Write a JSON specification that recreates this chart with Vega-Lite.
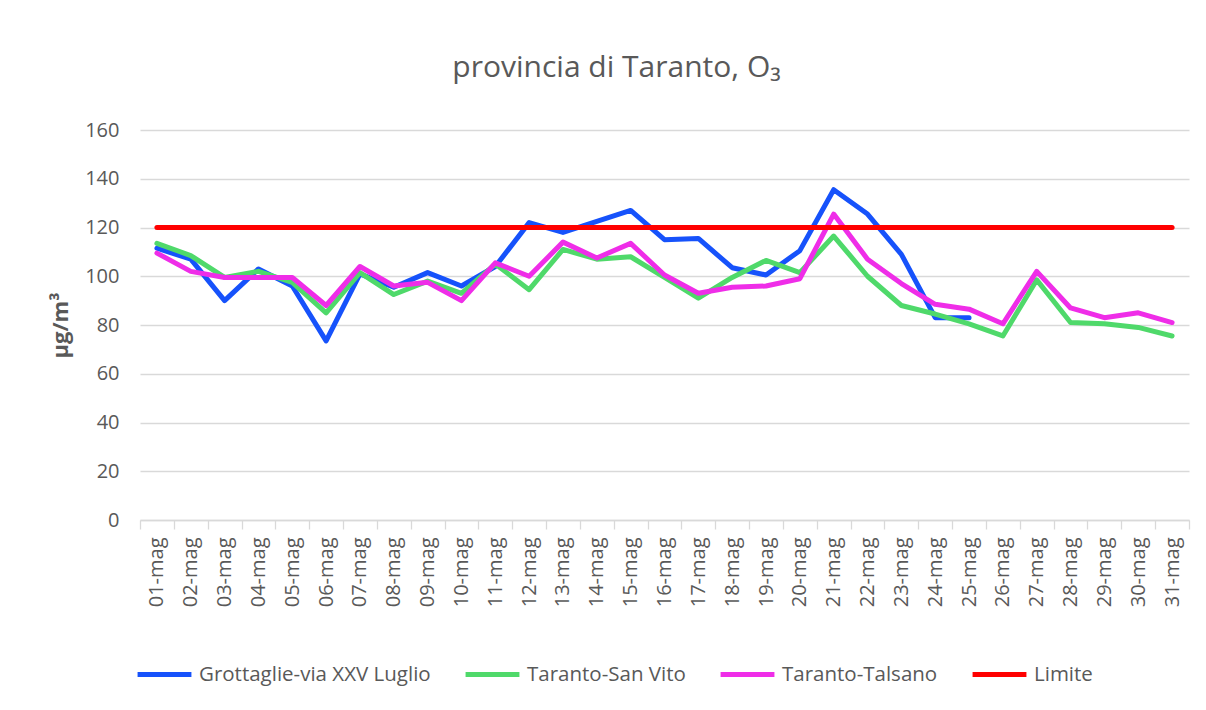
{
  "$schema": "https://vega.github.io/schema/vega-lite/v6.json",
  "width": 1049,
  "height": 390,
  "autosize": {"type": "none"},
  "padding": {"left": 140, "top": 130, "right": 17, "bottom": 190},
  "background": "white",
  "title": {
    "text": "provincia di Taranto, O₃",
    "font": "Open Sans",
    "fontSize": 30,
    "fontWeight": "normal",
    "color": "#595959",
    "anchor": "middle",
    "baseline": "bottom",
    "offset": 7,
    "dx": -48
  },
  "config": {
    "view": {"stroke": null},
    "font": "Open Sans",
    "axis": {"labelFont": "Open Sans", "titleFont": "Open Sans", "labelColor": "#595959", "titleColor": "#595959"},
    "legend": {"labelFont": "Open Sans"}
  },
  "datasets": {
    "rows": [
      {"day": "01-mag", "station": "Grottaglie-via XXV Luglio", "value": 111.5},
      {"day": "02-mag", "station": "Grottaglie-via XXV Luglio", "value": 107},
      {"day": "03-mag", "station": "Grottaglie-via XXV Luglio", "value": 90},
      {"day": "04-mag", "station": "Grottaglie-via XXV Luglio", "value": 103},
      {"day": "05-mag", "station": "Grottaglie-via XXV Luglio", "value": 96},
      {"day": "06-mag", "station": "Grottaglie-via XXV Luglio", "value": 73.5},
      {"day": "07-mag", "station": "Grottaglie-via XXV Luglio", "value": 101},
      {"day": "08-mag", "station": "Grottaglie-via XXV Luglio", "value": 95.5},
      {"day": "09-mag", "station": "Grottaglie-via XXV Luglio", "value": 101.5},
      {"day": "10-mag", "station": "Grottaglie-via XXV Luglio", "value": 96},
      {"day": "11-mag", "station": "Grottaglie-via XXV Luglio", "value": 104},
      {"day": "12-mag", "station": "Grottaglie-via XXV Luglio", "value": 122},
      {"day": "13-mag", "station": "Grottaglie-via XXV Luglio", "value": 118},
      {"day": "14-mag", "station": "Grottaglie-via XXV Luglio", "value": 122.5},
      {"day": "15-mag", "station": "Grottaglie-via XXV Luglio", "value": 127},
      {"day": "16-mag", "station": "Grottaglie-via XXV Luglio", "value": 115},
      {"day": "17-mag", "station": "Grottaglie-via XXV Luglio", "value": 115.5},
      {"day": "18-mag", "station": "Grottaglie-via XXV Luglio", "value": 103.5},
      {"day": "19-mag", "station": "Grottaglie-via XXV Luglio", "value": 100.5},
      {"day": "20-mag", "station": "Grottaglie-via XXV Luglio", "value": 110.5},
      {"day": "21-mag", "station": "Grottaglie-via XXV Luglio", "value": 135.5},
      {"day": "22-mag", "station": "Grottaglie-via XXV Luglio", "value": 125.5},
      {"day": "23-mag", "station": "Grottaglie-via XXV Luglio", "value": 109},
      {"day": "24-mag", "station": "Grottaglie-via XXV Luglio", "value": 83},
      {"day": "25-mag", "station": "Grottaglie-via XXV Luglio", "value": 83},
      {"day": "01-mag", "station": "Taranto-San Vito", "value": 113.5},
      {"day": "02-mag", "station": "Taranto-San Vito", "value": 108.5},
      {"day": "03-mag", "station": "Taranto-San Vito", "value": 99.5},
      {"day": "04-mag", "station": "Taranto-San Vito", "value": 102},
      {"day": "05-mag", "station": "Taranto-San Vito", "value": 97.5},
      {"day": "06-mag", "station": "Taranto-San Vito", "value": 85},
      {"day": "07-mag", "station": "Taranto-San Vito", "value": 101.5},
      {"day": "08-mag", "station": "Taranto-San Vito", "value": 92.5},
      {"day": "09-mag", "station": "Taranto-San Vito", "value": 98},
      {"day": "10-mag", "station": "Taranto-San Vito", "value": 93},
      {"day": "11-mag", "station": "Taranto-San Vito", "value": 105},
      {"day": "12-mag", "station": "Taranto-San Vito", "value": 94.5},
      {"day": "13-mag", "station": "Taranto-San Vito", "value": 111},
      {"day": "14-mag", "station": "Taranto-San Vito", "value": 107},
      {"day": "15-mag", "station": "Taranto-San Vito", "value": 108},
      {"day": "16-mag", "station": "Taranto-San Vito", "value": 99.5},
      {"day": "17-mag", "station": "Taranto-San Vito", "value": 91},
      {"day": "18-mag", "station": "Taranto-San Vito", "value": 99.5},
      {"day": "19-mag", "station": "Taranto-San Vito", "value": 106.5},
      {"day": "20-mag", "station": "Taranto-San Vito", "value": 101.5},
      {"day": "21-mag", "station": "Taranto-San Vito", "value": 116.5},
      {"day": "22-mag", "station": "Taranto-San Vito", "value": 100},
      {"day": "23-mag", "station": "Taranto-San Vito", "value": 88},
      {"day": "24-mag", "station": "Taranto-San Vito", "value": 84.5},
      {"day": "25-mag", "station": "Taranto-San Vito", "value": 80.5},
      {"day": "26-mag", "station": "Taranto-San Vito", "value": 75.5},
      {"day": "27-mag", "station": "Taranto-San Vito", "value": 98.5},
      {"day": "28-mag", "station": "Taranto-San Vito", "value": 81},
      {"day": "29-mag", "station": "Taranto-San Vito", "value": 80.5},
      {"day": "30-mag", "station": "Taranto-San Vito", "value": 79},
      {"day": "31-mag", "station": "Taranto-San Vito", "value": 75.5},
      {"day": "01-mag", "station": "Taranto-Talsano", "value": 109.5},
      {"day": "02-mag", "station": "Taranto-Talsano", "value": 102},
      {"day": "03-mag", "station": "Taranto-Talsano", "value": 99.5},
      {"day": "04-mag", "station": "Taranto-Talsano", "value": 99.5},
      {"day": "05-mag", "station": "Taranto-Talsano", "value": 99.5},
      {"day": "06-mag", "station": "Taranto-Talsano", "value": 88},
      {"day": "07-mag", "station": "Taranto-Talsano", "value": 104},
      {"day": "08-mag", "station": "Taranto-Talsano", "value": 96},
      {"day": "09-mag", "station": "Taranto-Talsano", "value": 97.5},
      {"day": "10-mag", "station": "Taranto-Talsano", "value": 90},
      {"day": "11-mag", "station": "Taranto-Talsano", "value": 105.5},
      {"day": "12-mag", "station": "Taranto-Talsano", "value": 100},
      {"day": "13-mag", "station": "Taranto-Talsano", "value": 114},
      {"day": "14-mag", "station": "Taranto-Talsano", "value": 107.5},
      {"day": "15-mag", "station": "Taranto-Talsano", "value": 113.5},
      {"day": "16-mag", "station": "Taranto-Talsano", "value": 100.5},
      {"day": "17-mag", "station": "Taranto-Talsano", "value": 93},
      {"day": "18-mag", "station": "Taranto-Talsano", "value": 95.5},
      {"day": "19-mag", "station": "Taranto-Talsano", "value": 96},
      {"day": "20-mag", "station": "Taranto-Talsano", "value": 99},
      {"day": "21-mag", "station": "Taranto-Talsano", "value": 125.5},
      {"day": "22-mag", "station": "Taranto-Talsano", "value": 107},
      {"day": "23-mag", "station": "Taranto-Talsano", "value": 97},
      {"day": "24-mag", "station": "Taranto-Talsano", "value": 88.5},
      {"day": "25-mag", "station": "Taranto-Talsano", "value": 86.5},
      {"day": "26-mag", "station": "Taranto-Talsano", "value": 80.5},
      {"day": "27-mag", "station": "Taranto-Talsano", "value": 102},
      {"day": "28-mag", "station": "Taranto-Talsano", "value": 87},
      {"day": "29-mag", "station": "Taranto-Talsano", "value": 83},
      {"day": "30-mag", "station": "Taranto-Talsano", "value": 85},
      {"day": "31-mag", "station": "Taranto-Talsano", "value": 81},
      {"day": "01-mag", "station": "Limite", "value": 120},
      {"day": "02-mag", "station": "Limite", "value": 120},
      {"day": "03-mag", "station": "Limite", "value": 120},
      {"day": "04-mag", "station": "Limite", "value": 120},
      {"day": "05-mag", "station": "Limite", "value": 120},
      {"day": "06-mag", "station": "Limite", "value": 120},
      {"day": "07-mag", "station": "Limite", "value": 120},
      {"day": "08-mag", "station": "Limite", "value": 120},
      {"day": "09-mag", "station": "Limite", "value": 120},
      {"day": "10-mag", "station": "Limite", "value": 120},
      {"day": "11-mag", "station": "Limite", "value": 120},
      {"day": "12-mag", "station": "Limite", "value": 120},
      {"day": "13-mag", "station": "Limite", "value": 120},
      {"day": "14-mag", "station": "Limite", "value": 120},
      {"day": "15-mag", "station": "Limite", "value": 120},
      {"day": "16-mag", "station": "Limite", "value": 120},
      {"day": "17-mag", "station": "Limite", "value": 120},
      {"day": "18-mag", "station": "Limite", "value": 120},
      {"day": "19-mag", "station": "Limite", "value": 120},
      {"day": "20-mag", "station": "Limite", "value": 120},
      {"day": "21-mag", "station": "Limite", "value": 120},
      {"day": "22-mag", "station": "Limite", "value": 120},
      {"day": "23-mag", "station": "Limite", "value": 120},
      {"day": "24-mag", "station": "Limite", "value": 120},
      {"day": "25-mag", "station": "Limite", "value": 120},
      {"day": "26-mag", "station": "Limite", "value": 120},
      {"day": "27-mag", "station": "Limite", "value": 120},
      {"day": "28-mag", "station": "Limite", "value": 120},
      {"day": "29-mag", "station": "Limite", "value": 120},
      {"day": "30-mag", "station": "Limite", "value": 120},
      {"day": "31-mag", "station": "Limite", "value": 120}
    ]
  },
  "data": {"name": "rows"},
  "mark": {"type": "line", "strokeWidth": 5, "strokeCap": "round", "strokeJoin": "round"},
  "encoding": {
    "x": {
      "field": "day",
      "type": "ordinal",
      "sort": "ascending",
      "bandPosition": 0.5,
      "scale": {"type": "band", "paddingInner": 0, "paddingOuter": 0},
      "axis": {
        "title": null,
        "labelAngle": -90,
        "labelFontSize": 20,
        "labelPadding": 8,
        "tickBand": "extent",
        "tickSize": 9,
        "tickColor": "#d9d9d9",
        "tickWidth": 1.3,
        "domainColor": "#d9d9d9",
        "domainWidth": 1.3,
        "grid": false
      }
    },
    "y": {
      "field": "value",
      "type": "quantitative",
      "scale": {"domain": [0, 160], "nice": false, "zero": true},
      "axis": {
        "title": "µg/m³",
        "titleFontSize": 22,
        "titleFontWeight": "bold",
        "titlePadding": 12,
        "values": [0, 20, 40, 60, 80, 100, 120, 140, 160],
        "labelFontSize": 20,
        "labelPadding": 21,
        "ticks": false,
        "domain": false,
        "grid": true,
        "gridColor": "#d9d9d9",
        "gridWidth": 1.3
      }
    },
    "color": {
      "field": "station",
      "type": "nominal",
      "sort": ["Grottaglie-via XXV Luglio", "Taranto-San Vito", "Taranto-Talsano", "Limite"],
      "scale": {
        "domain": ["Grottaglie-via XXV Luglio", "Taranto-San Vito", "Taranto-Talsano", "Limite"],
        "range": ["#1652fb", "#4fd96a", "#ef2de8", "#ff0000"]
      },
      "legend": {
        "title": null,
        "orient": "none",
        "direction": "horizontal",
        "legendX": -5,
        "legendY": 515,
        "symbolType": "stroke",
        "symbolSize": 2900,
        "symbolStrokeWidth": 5,
        "labelFontSize": 20.5,
        "labelColor": "#595959",
        "labelOffset": 5,
        "columnPadding": 24,
        "labelLimit": 400
      }
    },
    "order": {"field": "day"}
  }
}
